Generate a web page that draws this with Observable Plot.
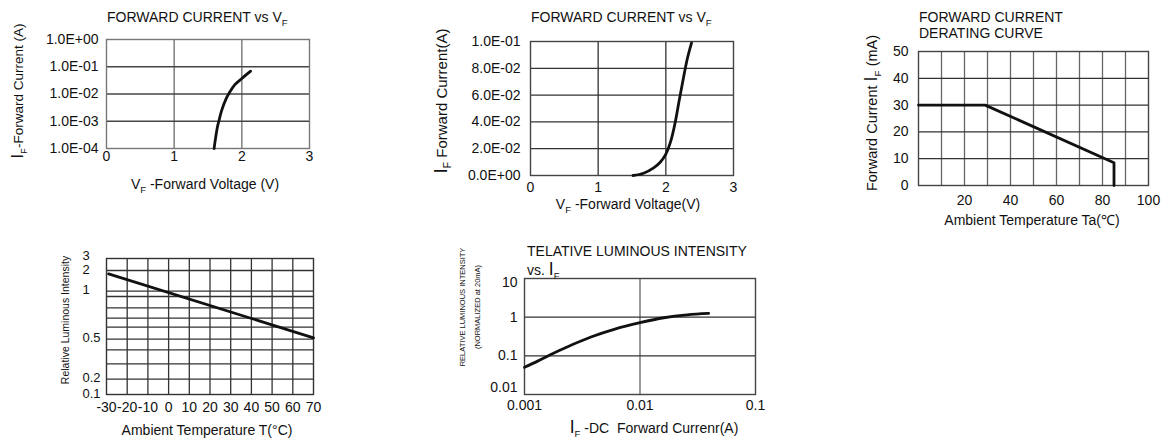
<!DOCTYPE html>
<html><head><meta charset="utf-8">
<script src="https://cdn.jsdelivr.net/npm/d3@7"></script>
<script src="https://cdn.jsdelivr.net/npm/@observablehq/plot@0.6"></script>
<style>
body{margin:0;background:#fff;}
#root{position:relative;width:1165px;height:442px;overflow:hidden;background:#fff;}
#root svg{position:absolute;}
</style></head><body><div id="root"></div>
<script>
const FONT = '"Liberation Sans", Arial, Helvetica, sans-serif';

// ---------- Panel 1: Forward current vs VF (log) ----------
const p1V = [1.59, 1.613, 1.637, 1.66, 1.70, 1.765, 1.82, 1.897, 2.0, 2.13];
const p1I = [1e-4, 2.5e-4, 5.8e-4, 1e-3, 2.4e-3, 6.5e-3, 0.0115, 0.022, 0.037, 0.0687];
const p1XTicks = [0, 1, 2, 3];
const p1XGrid = [1, 2];
const p1YTicks = [1e-4, 1e-3, 1e-2, 1e-1, 1];
const p1YLabels = ["1.0E-04", "1.0E-03", "1.0E-02", "1.0E-01", "1.0E+00"];
const p1YGrid = [1e-3, 1e-2, 1e-1];

// ---------- Panel 2: Forward current vs VF (linear) ----------
const p2V = [1.515, 1.67, 1.82, 1.917, 2.0, 2.075, 2.14, 2.20, 2.26, 2.32, 2.38];
const p2I = [0, 0.0017, 0.0057, 0.0099, 0.016, 0.026, 0.040, 0.0568, 0.0728, 0.0877, 0.099];
const p2XTicks = [0, 1, 2, 3];
const p2XGrid = [1, 2];
const p2YTicks = [0, 0.02, 0.04, 0.06, 0.08, 0.1];
const p2YLabels = ["0.0E+00", "2.0E-02", "4.0E-02", "6.0E-02", "8.0E-02", "1.0E-01"];
const p2YGrid = [0.02, 0.04, 0.06, 0.08];

// ---------- Panel 3: Derating curve ----------
const p3T = [0, 29, 85, 85];
const p3I = [30, 30, 8.5, 0];
const p3XTicks = [20, 40, 60, 80, 100];
const p3XGrid = [10, 20, 30, 40, 50, 60, 70, 80, 90];
const p3YTicks = [0, 10, 20, 30, 40, 50];
const p3YGrid = [10, 20, 30, 40];

// ---------- Panel 4: Relative luminous intensity vs temperature ----------
const p4T = [-29, 70];
const p4R = [1.84, 0.511];
const p4XTicks = [-30, -20, -10, 0, 10, 20, 30, 40, 50, 60, 70];
const p4XGrid = [-20, -10, 0, 10, 20, 30, 40, 50, 60];
const p4YTicks = [0.1, 0.2, 0.5, 1, 2];
const p4YLabels = ["0.1", "0.2", "0.5", "1", "2"];
const p4YTopTick = [3];
const p4YTopLabel = ["3"];
const p4YGrid = [0.2, 0.3, 0.4, 0.5, 0.6, 0.7, 0.8, 0.9, 1, 2];
// non-uniform printed grid of the datasheet (piecewise scale)
const p4YDomain = [0.1, 0.2, 0.3, 0.4, 0.5, 0.6, 0.7, 0.8, 0.9, 1, 2, 3];
const p4YRange = [154, 138.7, 123.3, 109.3, 98.7, 86.7, 77.7, 67.3, 56, 50.7, 30, 18.3];

// ---------- Panel 5: Relative luminous intensity vs IF ----------
const p5I = [0.001, 0.0013, 0.00164, 0.00253, 0.00376, 0.00597, 0.01, 0.0161, 0.0256, 0.0393];
const p5L = [0.0505, 0.073, 0.104, 0.188, 0.307, 0.484, 0.718, 0.966, 1.15, 1.25];
const p5XTicks = [0.001, 0.01, 0.1];
const p5XLabels = ["0.001", "0.01", "0.1"];
const p5XGrid = [0.01];
const p5YTicks = [0.1, 1];
const p5YLabels = ["0.1", "1"];
const p5YTopTick = [10];
const p5YTopLabel = ["10"];
const p5YBottomTick = [0.01];
const p5YBottomLabel = ["0.01"];
const p5YGrid = [0.1, 1];

const root = document.getElementById("root");
function place(svg, left, top) {
  svg.style.left = left + "px";
  svg.style.top = top + "px";
  root.append(svg);
}
function addText(svg, x, y, segs, {size = 14, anchor = "middle", rotate = 0} = {}) {
  const t = d3.select(svg).append("text")
    .attr("transform", `translate(${x},${y})` + (rotate ? ` rotate(${rotate})` : ""))
    .attr("text-anchor", anchor)
    .attr("font-size", size)
    .attr("font-family", FONT)
    .attr("dy", "0.35em")
    .attr("fill", "#111")
    .style("white-space", "pre");
  let shift = 0;
  for (const [s, kind] of segs) {
    const sp = t.append("tspan").text(s);
    let target = 0;
    if (kind === "sub") { sp.attr("font-size", size * 0.68); target = size * 0.28; }
    if (kind === "big") sp.attr("font-size", size * 1.25);
    if (target !== shift) { sp.attr("dy", target - shift); shift = target; }
  }
  return t;
}
function common(w, h, ml, mt, mr, mb) {
  return {
    width: w, height: h, marginLeft: ml, marginTop: mt, marginRight: mr, marginBottom: mb,
    style: {fontFamily: FONT, fontSize: "14px", color: "#111", background: "transparent", overflow: "visible"}
  };
}
const lookup = (ticks, labels) => d => labels[ticks.indexOf(d)];
const LW = 2.8;

// Panel 1
const s1 = Plot.plot({
  ...common(330, 200, 106, 39, 21, 52),
  x: {domain: [0, 3]},
  y: {type: "log", domain: [1e-4, 1]},
  marks: [
    Plot.ruleX(p1XGrid, {stroke: "#777", strokeWidth: 1.4}),
    Plot.ruleY(p1YGrid, {stroke: "#444", strokeWidth: 1.3}),
    Plot.frame({stroke: "#777", strokeWidth: 1.4}),
    Plot.line({length: p1V.length}, {x: p1V, y: p1I, curve: "catmull-rom", stroke: "#111", strokeWidth: LW}),
    Plot.axisX(p1XTicks, {tickSize: 0, tickPadding: 3, tickFormat: d => String(d), label: null, fontSize: 14}),
    Plot.axisY(p1YTicks, {tickSize: 0, tickPadding: 8, tickFormat: lookup(p1YTicks, p1YLabels), label: null, fontSize: 14})
  ]
});
addText(s1, 107, 17, [["FORWARD CURRENT vs V"], ["F", "sub"]], {anchor: "start"});
addText(s1, 205, 184, [["V"], ["F", "sub"], [" -Forward Voltage (V)"]]);
addText(s1, 18, 91, [["I", "big"], ["F", "sub"], ["-Forward Current (A)"]], {rotate: -90, size: 13.5});
place(s1, 0, 0);

// Panel 2
const s2 = Plot.plot({
  ...common(340, 215, 110, 41, 27, 40),
  x: {domain: [0, 3]},
  y: {domain: [0, 0.1]},
  marks: [
    Plot.ruleX(p2XGrid, {stroke: "#333", strokeWidth: 1.3}),
    Plot.ruleY(p2YGrid, {stroke: "#333", strokeWidth: 1.3}),
    Plot.frame({stroke: "#444", strokeWidth: 1.4}),
    Plot.line({length: p2V.length}, {x: p2V, y: p2I, curve: "catmull-rom", stroke: "#111", strokeWidth: LW}),
    Plot.axisX(p2XTicks, {tickSize: 0, tickPadding: 7, tickFormat: d => String(d), label: null, fontSize: 14}),
    Plot.axisY(p2YTicks, {tickSize: 0, tickPadding: 10, tickFormat: lookup(p2YTicks, p2YLabels), label: null, fontSize: 14})
  ]
});
addText(s2, 111, 17, [["FORWARD CURRENT vs V"], ["F", "sub"]], {anchor: "start"});
addText(s2, 208, 204, [["V"], ["F", "sub"], [" -Forward Voltage(V)"]]);
addText(s2, 22, 101, [["I", "big"], ["F", "sub"], [" Forward Current(A)"]], {rotate: -90, size: 15});
place(s2, 420, 0);

// Panel 3
const s3 = Plot.plot({
  ...common(325, 235, 78, 51, 17, 50),
  x: {domain: [0, 100]},
  y: {domain: [0, 50]},
  marks: [
    Plot.ruleX(p3XGrid, {stroke: "#666", strokeWidth: 1.3}),
    Plot.ruleY(p3YGrid, {stroke: "#333", strokeWidth: 1.3}),
    Plot.frame({stroke: "#444", strokeWidth: 1.4}),
    Plot.line({length: p3T.length}, {x: p3T, y: p3I, stroke: "#111", strokeWidth: LW}),
    Plot.axisX(p3XTicks, {tickSize: 0, tickPadding: 10, tickFormat: d => String(d), label: null, fontSize: 14}),
    Plot.axisY(p3YTicks, {tickSize: 0, tickPadding: 10, tickFormat: d => String(d), label: null, fontSize: 14})
  ]
});
addText(s3, 79, 17, [["FORWARD CURRENT"]], {anchor: "start"});
addText(s3, 79, 33, [["DERATING CURVE"]], {anchor: "start"});
addText(s3, 192, 220, [["Ambient Temperature Ta(℃)"]]);
addText(s3, 32, 113, [["Forward Current "], ["I", "big"], ["F", "sub"], [" (mA)"]], {rotate: -90, size: 14.5});
place(s3, 840, 0);

// Panel 4
const s4 = Plot.plot({
  ...common(330, 202, 106, 18, 17, 48),
  x: {domain: [-30, 70], axis: null},
  y: {type: "linear", domain: p4YDomain, range: p4YRange, axis: null},
  marks: [
    Plot.ruleX(p4XGrid, {stroke: "#333", strokeWidth: 1.3}),
    Plot.ruleY(p4YGrid, {stroke: "#333", strokeWidth: 1.3}),
    Plot.frame({stroke: "#333", strokeWidth: 1.4}),
    Plot.line({length: p4T.length}, {x: p4T, y: p4R, stroke: "#111", strokeWidth: LW}),
    Plot.axisX(p4XTicks, {tickSize: 0, tickPadding: 8, tickFormat: d => String(d), label: null, fontSize: 14}),
    Plot.text(p4YTicks, {y: d => d, text: (d, i) => p4YLabels[i], frameAnchor: "left", textAnchor: "start", dx: -24, dy: -1, fontSize: 13}),
    Plot.text(p4YTopTick, {y: d => d, text: (d, i) => p4YTopLabel[i], frameAnchor: "left", textAnchor: "start", dx: -24, dy: -3, fontSize: 13})
  ]
});
addText(s4, 207, 190, [["Ambient Temperature T(°C)"]]);
addText(s4, 65, 80, [["Relative Luminous Intensity"]], {rotate: -90, size: 10.5});
place(s4, 0, 240);

// Panel 5
const s5 = Plot.plot({
  ...common(350, 207, 94, 43, 25, 48),
  x: {type: "log", domain: [0.001, 0.1]},
  y: {type: "log", domain: [0.01, 10]},
  marks: [
    Plot.ruleX(p5XGrid, {stroke: "#666", strokeWidth: 1.3}),
    Plot.ruleY(p5YGrid, {stroke: "#333", strokeWidth: 1.3}),
    Plot.frame({stroke: "#444", strokeWidth: 1.4}),
    Plot.line({length: p5I.length}, {x: p5I, y: p5L, curve: "catmull-rom", stroke: "#111", strokeWidth: LW}),
    Plot.axisX(p5XTicks, {tickSize: 0, tickPadding: 6, tickFormat: lookup(p5XTicks, p5XLabels), label: null, fontSize: 14}),
    Plot.axisY(p5YTicks, {tickSize: 0, tickPadding: 7, tickFormat: lookup(p5YTicks, p5YLabels), label: null, fontSize: 14}),
    Plot.text(p5YTopTick, {y: d => d, text: (d, i) => p5YTopLabel[i], frameAnchor: "left", textAnchor: "end", dx: -7, dy: 4, fontSize: 14}),
    Plot.text(p5YBottomTick, {y: d => d, text: (d, i) => p5YBottomLabel[i], frameAnchor: "left", textAnchor: "end", dx: -7, dy: -7, fontSize: 14})
  ]
});
addText(s5, 97, 16, [["TELATIVE LUMINOUS INTENSITY"]], {anchor: "start"});
addText(s5, 97, 35, [["vs. "], ["I", "big"], ["F", "sub"]], {anchor: "start"});
addText(s5, 224, 193, [["I", "big"], ["F", "sub"], [" -DC  Forward Currenr(A)"]]);
addText(s5, 32, 72, [["RELATIVE LUMINOUS INTENSITY"]], {rotate: -90, size: 7.5});
addText(s5, 47, 72, [["(NORMALIZED at 20mA)"]], {rotate: -90, size: 7.5});
place(s5, 430, 235);
</script></body></html>
